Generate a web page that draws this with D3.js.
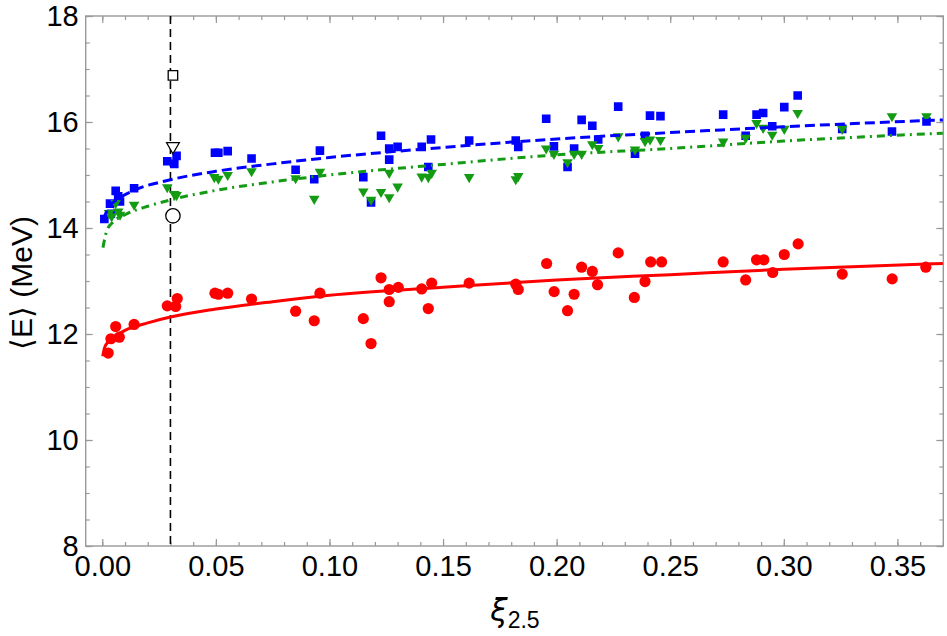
<!DOCTYPE html>
<html>
<head>
<meta charset="utf-8">
<script src="https://cdn.jsdelivr.net/npm/d3@7"></script>
<style>
  body { margin: 0; background: #fff; }
  text { font-family: "Liberation Sans", Arial, Helvetica, sans-serif; }
</style>
</head>
<body>
<svg id="chart" width="947" height="636"></svg>
<script>
// mean energy <E> versus compactness xi_2.5

// red circles: [xi, <E>]
const redPoints = [
  [0.0026, 11.64], [0.0038, 11.91], [0.0059, 12.14], [0.0075, 11.94], [0.014, 12.18],
  [0.0286, 12.53], [0.0323, 12.52], [0.033, 12.67], [0.0496, 12.77], [0.0511, 12.75],
  [0.0552, 12.77], [0.0657, 12.66], [0.0851, 12.43], [0.0933, 12.25], [0.0958, 12.77],
  [0.1149, 12.29], [0.1183, 11.82], [0.1227, 13.06], [0.1263, 12.84], [0.1263, 12.61],
  [0.1303, 12.88], [0.1406, 12.85], [0.1435, 12.48], [0.145, 12.96], [0.1615, 12.96],
  [0.182, 12.94], [0.1831, 12.84], [0.1956, 13.33], [0.1989, 12.80], [0.2048, 12.44],
  [0.2077, 12.75], [0.211, 13.26], [0.2157, 13.18], [0.218, 12.93], [0.2271, 13.53],
  [0.2342, 12.69], [0.2389, 12.99], [0.2414, 13.36], [0.2462, 13.36], [0.2733, 13.36],
  [0.2832, 13.02], [0.288, 13.40], [0.2912, 13.40], [0.2951, 13.16], [0.3002, 13.50],
  [0.3063, 13.70], [0.3257, 13.13], [0.3477, 13.04], [0.3625, 13.26]
];

// blue squares
const bluePoints = [
  [0.0009, 14.17], [0.0034, 14.46], [0.0038, 14.27], [0.0059, 14.70], [0.0070, 14.60],
  [0.0078, 14.50], [0.014, 14.75], [0.0286, 15.26], [0.0317, 15.21], [0.0327, 15.36],
  [0.0496, 15.42], [0.0511, 15.42], [0.0552, 15.45], [0.0657, 15.31], [0.0851, 15.10],
  [0.0933, 14.92], [0.0958, 15.46], [0.1149, 14.96], [0.1183, 14.48], [0.1227, 15.74],
  [0.1263, 15.50], [0.1263, 15.29], [0.130, 15.53], [0.1406, 15.53], [0.1435, 15.15],
  [0.1447, 15.67], [0.1615, 15.65], [0.182, 15.65], [0.1831, 15.53], [0.1954, 16.06],
  [0.1988, 15.54], [0.2048, 15.15], [0.2077, 15.50], [0.211, 16.04], [0.2157, 15.93],
  [0.2183, 15.67], [0.2271, 16.29], [0.2345, 15.40], [0.2389, 15.74], [0.2411, 16.12],
  [0.2457, 16.11], [0.2733, 16.14], [0.2832, 15.74], [0.288, 16.14], [0.2909, 16.17],
  [0.2949, 15.92], [0.3002, 16.28], [0.3061, 16.50], [0.3257, 15.87], [0.3476, 15.82],
  [0.3628, 16.01]
];

// green down-triangles
const greenPoints = [
  [0.0030, 14.28], [0.0041, 14.22], [0.0059, 14.47], [0.0070, 14.31], [0.0078, 14.25],
  [0.014, 14.44], [0.0286, 14.77], [0.0317, 14.64], [0.0327, 14.62], [0.0493, 14.96],
  [0.0511, 14.93], [0.0552, 15.00], [0.0657, 15.07], [0.0851, 14.94], [0.0933, 14.55],
  [0.0958, 15.06], [0.1149, 14.69], [0.1183, 14.53], [0.1227, 14.68], [0.1263, 15.04],
  [0.1263, 14.58], [0.130, 14.78], [0.1406, 14.97], [0.1435, 14.96], [0.145, 15.04],
  [0.1615, 14.96], [0.182, 14.92], [0.1831, 14.98], [0.1954, 15.50], [0.1988, 15.40],
  [0.2048, 15.24], [0.2077, 15.40], [0.211, 15.40], [0.2157, 15.58], [0.2183, 15.51],
  [0.2271, 15.73], [0.2345, 15.48], [0.2389, 15.64], [0.2411, 15.67], [0.2457, 15.66],
  [0.2733, 15.63], [0.2832, 15.70], [0.288, 15.98], [0.2909, 15.89], [0.2949, 15.76],
  [0.3002, 15.87], [0.3061, 16.17], [0.3257, 15.87], [0.3476, 16.11], [0.3628, 16.11]
];

// fitted curves
const redCurve = [
  [0.0002, 11.58], [0.001, 11.74], [0.003, 11.87], [0.006, 11.97], [0.01, 12.07],
  [0.02, 12.21], [0.03, 12.32], [0.05, 12.47], [0.075, 12.61], [0.1, 12.73],
  [0.15, 12.88], [0.2, 13.02], [0.25, 13.12], [0.3, 13.22], [0.37, 13.33]
];
const blueCurve = [
  [0.0003, 14.15], [0.003, 14.40], [0.007, 14.55], [0.014, 14.71], [0.03, 14.91],
  [0.05, 15.07], [0.075, 15.21], [0.1, 15.33], [0.15, 15.52], [0.2, 15.68],
  [0.25, 15.80], [0.3, 15.91], [0.37, 16.04]
];
const greenCurve = [
  [0.0003, 13.63], [0.002, 13.95], [0.005, 14.12], [0.01, 14.25], [0.02, 14.41],
  [0.03, 14.53], [0.05, 14.71], [0.075, 14.87], [0.1, 15.0], [0.15, 15.2],
  [0.2, 15.38], [0.25, 15.5], [0.3, 15.64], [0.37, 15.79]
];

// open reference markers on the cut line
const cutX = 0.03;
const openSquare = [0.0311, 16.88];
const openTriangle = [0.0311, 15.54];
const openCircle = [0.0311, 14.23];

const xTicks = [0, 0.05, 0.1, 0.15, 0.2, 0.25, 0.3, 0.35];
const xMinor = d3.range(0, 38).map(i => i / 100);
const yTicks = [8, 10, 12, 14, 16, 18];
const yMinor = d3.range(16, 37).map(i => i / 2);

const width = 947, height = 636;
const margin = {top: 16, right: 3.7, bottom: 90, left: 85.7};

const svg = d3.select("#chart");

const x = d3.scaleLinear()
  .domain([-0.0073, 0.3702])
  .range([margin.left, width - margin.right]);

const y = d3.scaleLinear()
  .domain([8, 18])
  .range([height - margin.bottom, margin.top]);

const frameColor = "#999";

svg.append("defs").append("clipPath")
  .attr("id", "plot-clip")
  .append("rect")
  .attr("x", margin.left)
  .attr("y", margin.top)
  .attr("width", width - margin.left - margin.right)
  .attr("height", height - margin.top - margin.bottom);

// frame ticks, Mathematica style (inward on all four sides)
function styleAxis(g) {
  g.select(".domain").remove();
  g.selectAll("line").attr("stroke", frameColor).attr("stroke-width", 1.2);
  g.selectAll("text")
    .attr("fill", "#000")
    .style("font-size", "29px")
    .style("font-family", "'Liberation Sans', Arial, Helvetica, sans-serif");
}

const xb = height - margin.bottom, xt = margin.top;
const yl = margin.left, yr = width - margin.right;

svg.append("g").attr("transform", `translate(0,${xb})`)
  .call(d3.axisBottom(x).tickValues(xMinor).tickSize(-4).tickFormat(""))
  .call(styleAxis);
svg.append("g").attr("transform", `translate(0,${xb})`)
  .call(d3.axisBottom(x).tickValues(xTicks).tickSize(-7).tickPadding(9).tickFormat(d3.format(".2f")))
  .call(styleAxis);
svg.append("g").attr("transform", `translate(0,${xt})`)
  .call(d3.axisTop(x).tickValues(xMinor).tickSize(-4).tickFormat(""))
  .call(styleAxis);
svg.append("g").attr("transform", `translate(0,${xt})`)
  .call(d3.axisTop(x).tickValues(xTicks).tickSize(-7).tickFormat(""))
  .call(styleAxis);

svg.append("g").attr("transform", `translate(${yl},0)`)
  .call(d3.axisLeft(y).tickValues(yMinor).tickSize(-4).tickFormat(""))
  .call(styleAxis);
svg.append("g").attr("transform", `translate(${yl},0)`)
  .call(d3.axisLeft(y).tickValues(yTicks).tickSize(-7).tickPadding(7).tickFormat(d3.format("d")))
  .call(styleAxis);
svg.append("g").attr("transform", `translate(${yr},0)`)
  .call(d3.axisRight(y).tickValues(yMinor).tickSize(-4).tickFormat(""))
  .call(styleAxis);
svg.append("g").attr("transform", `translate(${yr},0)`)
  .call(d3.axisRight(y).tickValues(yTicks).tickSize(-7).tickFormat(""))
  .call(styleAxis);

// frame
svg.append("rect")
  .attr("x", yl)
  .attr("y", xt)
  .attr("width", yr - yl)
  .attr("height", xb - xt)
  .attr("fill", "none")
  .attr("stroke", frameColor)
  .attr("stroke-width", 1.4);

const plot = svg.append("g").attr("clip-path", "url(#plot-clip)");

// vertical cut line
plot.append("line")
  .attr("x1", x(cutX)).attr("x2", x(cutX))
  .attr("y1", y(18)).attr("y2", y(8))
  .attr("stroke", "#000")
  .attr("stroke-width", 1.6)
  .attr("stroke-dasharray", "8,5");

const red = "#ff0000", blue = "#0000ff", green = "#139b13";

// markers
plot.append("g").selectAll("circle")
  .data(redPoints)
  .join("circle")
  .attr("cx", d => x(d[0]))
  .attr("cy", d => y(d[1]))
  .attr("r", 5.6)
  .attr("fill", red);

const square = d3.symbol(d3.symbolSquare, 74);
plot.append("g").selectAll("path")
  .data(bluePoints)
  .join("path")
  .attr("transform", d => `translate(${x(d[0])},${y(d[1])})`)
  .attr("d", square)
  .attr("fill", blue);

const tri = d3.symbol(d3.symbolTriangle, 48);
plot.append("g").selectAll("path")
  .data(greenPoints)
  .join("path")
  .attr("transform", d => `translate(${x(d[0])},${y(d[1])}) rotate(180)`)
  .attr("d", tri)
  .attr("fill", green);

// fitted curves
const line = d3.line()
  .x(d => x(d[0]))
  .y(d => y(d[1]))
  .curve(d3.curveMonotoneX);

plot.append("path")
  .attr("d", line(redCurve))
  .attr("fill", "none")
  .attr("stroke", red)
  .attr("stroke-width", 3);

plot.append("path")
  .attr("d", line(blueCurve))
  .attr("fill", "none")
  .attr("stroke", blue)
  .attr("stroke-width", 3)
  .attr("stroke-dasharray", "10,5");

plot.append("path")
  .attr("d", line(greenCurve))
  .attr("fill", "none")
  .attr("stroke", green)
  .attr("stroke-width", 3)
  .attr("stroke-dasharray", "8,5,2,5");

// open markers
plot.append("path")
  .attr("transform", `translate(${x(openSquare[0])},${y(openSquare[1])})`)
  .attr("d", d3.symbol(d3.symbolSquare, 90))
  .attr("fill", "#fff")
  .attr("stroke", "#000")
  .attr("stroke-width", 1.3);

plot.append("path")
  .attr("transform", `translate(${x(openTriangle[0])},${y(openTriangle[1])}) rotate(180)`)
  .attr("d", d3.symbol(d3.symbolTriangle, 70))
  .attr("fill", "#fff")
  .attr("stroke", "#000")
  .attr("stroke-width", 1.3);

plot.append("circle")
  .attr("cx", x(openCircle[0]))
  .attr("cy", y(openCircle[1]))
  .attr("r", 7.2)
  .attr("fill", "#fff")
  .attr("stroke", "#000")
  .attr("stroke-width", 1.3);

// Y axis label
svg.append("text")
  .attr("transform", "rotate(-90)")
  .attr("x", -283)
  .attr("y", 32)
  .attr("text-anchor", "middle")
  .style("font-size", "30px")
  .attr("fill", "#000")
  .text("⟨E⟩ (MeV)");

// X axis label
const xl = svg.append("text")
  .attr("x", 515)
  .attr("y", 621)
  .attr("text-anchor", "middle")
  .attr("fill", "#000");
xl.append("tspan")
  .style("font-size", "31px")
  .style("font-style", "italic")
  .style("font-family", "'DejaVu Sans', sans-serif")
  .text("ξ");
xl.append("tspan")
  .attr("dy", 7)
  .style("font-size", "23px")
  .text("2.5");
</script>
</body>
</html>
